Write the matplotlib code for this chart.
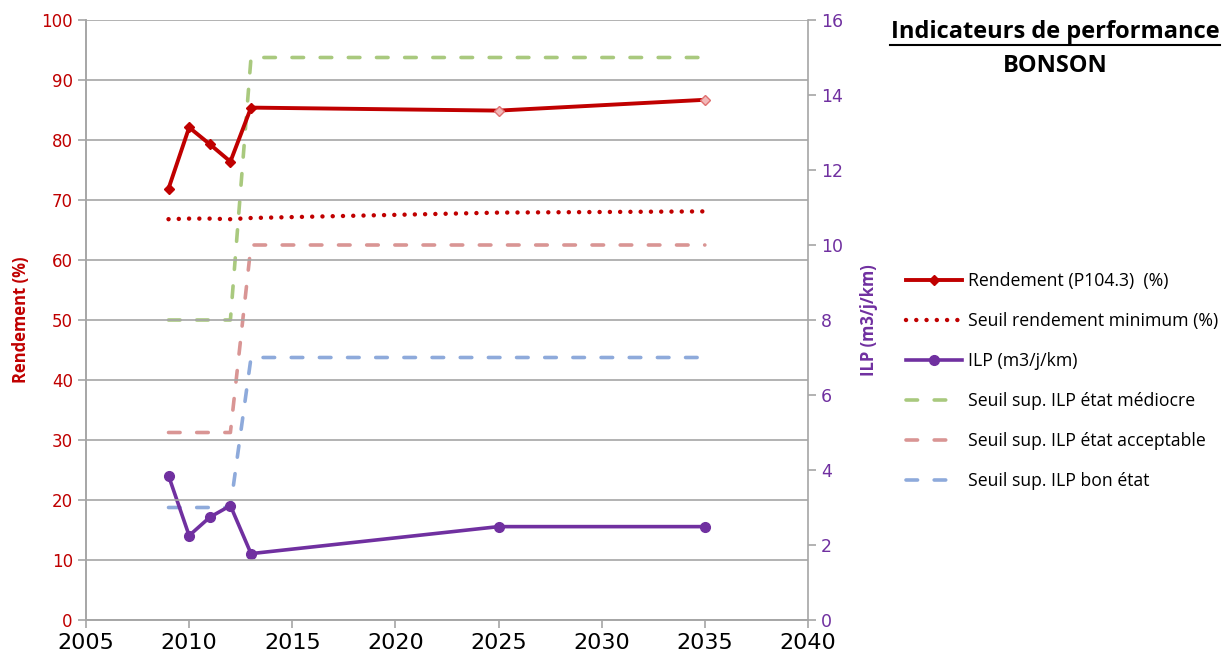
import matplotlib.pyplot as plt

# data
years = [2009, 2010, 2011, 2012, 2013, 2025, 2035]
rendement = [71.9, 82.1, 79.3, 76.4, 85.4, 84.9, 86.7]
seuil_rendement = [66.8, 66.9, 66.9, 66.8, 67.0, 67.9, 68.1]
ilp = [3.85, 2.25, 2.74, 3.05, 1.77, 2.49, 2.49]
seuil_mediocre = [8, 8, 8, 8, 15, 15, 15]
seuil_acceptable = [5, 5, 5, 5, 10, 10, 10]
seuil_bon = [3, 3, 3, 3, 7, 7, 7]

red = '#c00000'
purple = '#7030a0'
grid_c = '#a6a6a6'

plt.rcParams['font.family'] = ['DejaVu Sans']

fig = plt.figure(figsize=(12.3, 6.71), dpi=100)
ax = fig.add_axes([86 / 1230, 51 / 671, 722 / 1230, 600 / 671])
ax2 = ax.twinx()

ax.set_xlim(2005, 2040)
ax.set_ylim(0, 100)
ax2.set_ylim(0, 16)
ax.set_xticks(range(2005, 2041, 5))
ax.set_yticks(range(0, 101, 10))
ax2.set_yticks(range(0, 17, 2))
ax.yaxis.grid(True, color=grid_c, linewidth=1.2)
ax.set_axisbelow(True)

for a in (ax, ax2):
    for s in a.spines.values():
        s.set_color(grid_c)
        s.set_linewidth(1.2)
    a.spines['top'].set_visible(False)
ax.spines['right'].set_visible(False)

ax.tick_params(axis='x', colors=grid_c, labelcolor='black', labelsize=16, length=6, width=1.2)
ax.tick_params(axis='y', colors=grid_c, labelcolor=red, labelsize=12, length=6, width=1.2)
ax2.tick_params(axis='y', colors=grid_c, labelcolor=purple, labelsize=12.5, length=6, width=1.2)

ax.set_ylabel('Rendement (%)', color=red, fontsize=12, fontweight='bold', family='Open Sans', labelpad=8)
ax2.set_ylabel('ILP (m3/j/km)', color=purple, fontsize=12, fontweight='bold', family='Open Sans', labelpad=12)

dash = dict(linewidth=2.6, dashes=(3.2, 4.6), dash_capstyle='round')
l4, = ax2.plot(years, seuil_mediocre, color='#a9c97e', label='Seuil sup. ILP état médiocre', **dash)
l5, = ax2.plot(years, seuil_acceptable, color='#d99594', label='Seuil sup. ILP état acceptable', **dash)
l6, = ax2.plot(years, seuil_bon, color='#8eaadb', label='Seuil sup. ILP bon état', **dash)
l3, = ax2.plot(years, ilp, color=purple, linewidth=2.6, marker='o', markersize=7,
               label='ILP (m3/j/km)')
l2, = ax.plot(years, seuil_rendement, color=red, linewidth=3.2, linestyle=(0, (0.01, 2.3)),
              dash_capstyle='round', label='Seuil rendement minimum (%)')
l1, = ax.plot(years, rendement, color=red, linewidth=2.8, marker='D', markersize=5,
              markevery=[0, 1, 2, 3, 4], label='Rendement (P104.3)  (%)')
# projected points drawn as open markers
ax.plot(years[5:], rendement[5:], linestyle='none', marker='D', markersize=5,
        markerfacecolor='#f2b8b8', markeredgecolor='#e07070', markeredgewidth=1)
ax.set_zorder(ax2.get_zorder() + 1)
ax.patch.set_visible(False)

fig.legend(handles=[l1, l2, l3, l4, l5, l6], loc='upper left', bbox_to_anchor=(890 / 1230, 1 - 256 / 671),
           frameon=False, handlelength=3.2, handletextpad=0.3, labelspacing=1.25,
           prop={'family': 'Open Sans', 'size': 12.7})

fig.text(1055 / 1230, 1 - 32 / 671, 'Indicateurs de performance', ha='center', va='center',
         fontsize=17, fontweight='bold', family='Open Sans')
fig.text(1055 / 1230, 1 - 66 / 671, 'BONSON', ha='center', va='center',
         fontsize=17, fontweight='bold', family='Open Sans')
fig.add_artist(plt.Line2D([890 / 1230, 1220 / 1230], [1 - 45 / 671, 1 - 45 / 671], color='black', linewidth=1.5))

fig.savefig('out.png', dpi=100)
